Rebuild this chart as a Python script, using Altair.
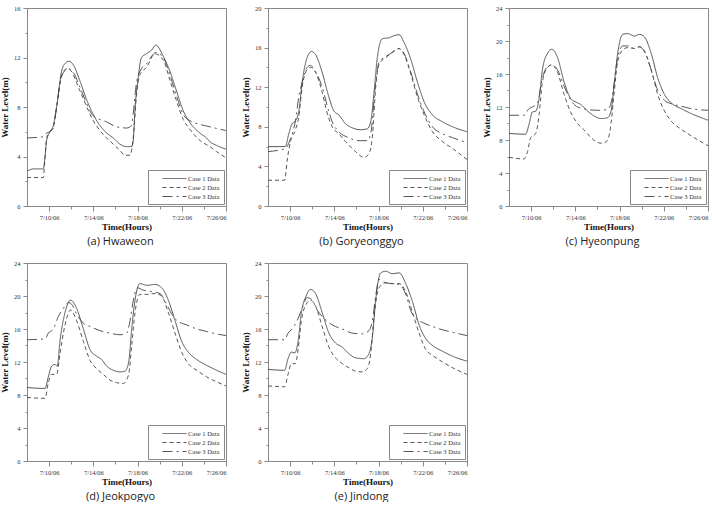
import altair as alt
import pandas as pd

CASES = ["Case 1 Data", "Case 2 Data", "Case 3 Data"]
START = pd.Timestamp("2006-07-08")

# ---- (a) Hwaweon ----
a1_day = [0, 0.57, 1.48, 1.63, 1.78, 2.08, 2.38, 2.68, 3.13, 3.43, 3.80, 4.19, 4.79, 5.39, 5.99, 6.60, 7.20, 7.80, 8.40, 9.01, 9.46, 9.61, 9.76, 10.06, 10.36, 10.81, 11.27, 11.66, 12.32, 12.92, 13.52, 14.13, 14.73, 15.63, 16.23, 16.54, 17.14, 17.98]
a1_lvl = [2.8, 3.0, 3.0, 4.0, 5.3, 6.0, 6.5, 8.0, 10.9, 11.5, 11.7, 11.4, 10.1, 8.6, 7.4, 6.5, 5.9, 5.5, 5.0, 4.8, 4.8, 5.3, 7.7, 10.4, 12.0, 12.3, 12.6, 13.0, 12.1, 10.9, 9.3, 7.7, 6.75, 5.9, 5.5, 5.2, 4.9, 4.6]
a2_day = [0, 1.48, 1.60, 1.78, 2.08, 2.38, 2.68, 3.13, 3.59, 3.90, 4.79, 5.99, 6.60, 7.80, 8.40, 8.86, 9.31, 9.61, 9.91, 10.21, 10.81, 11.57, 12.32, 12.92, 13.52, 14.13, 14.73, 15.63, 16.54, 17.14, 17.98]
a2_lvl = [2.3, 2.3, 3.5, 5.5, 6.0, 6.4, 8.0, 10.5, 11.1, 11.0, 9.3, 6.9, 6.1, 5.0, 4.5, 4.1, 4.1, 5.5, 9.0, 10.6, 11.2, 12.3, 11.8, 10.2, 8.5, 7.0, 6.2, 5.3, 4.8, 4.4, 3.9]
a3_day = [0, 1.48, 1.78, 2.08, 2.38, 2.68, 3.13, 3.72, 4.20, 4.79, 5.99, 7.20, 8.10, 9.01, 9.46, 9.61, 9.91, 10.36, 10.81, 11.66, 12.32, 12.92, 13.52, 14.13, 14.73, 15.63, 16.54, 17.98]
a3_lvl = [5.5, 5.6, 5.9, 6.0, 6.3, 8.0, 10.5, 11.1, 10.8, 9.6, 7.3, 6.8, 6.4, 6.3, 6.5, 7.5, 10.0, 11.1, 11.5, 12.4, 12.0, 10.6, 8.9, 7.4, 6.9, 6.6, 6.4, 6.1]

# ---- (b) Goryeonggyo ----
b1_day = [0, 1.57, 1.88, 2.18, 2.48, 2.78, 3.09, 3.54, 3.93, 4.30, 4.90, 5.51, 5.96, 6.41, 7.02, 7.62, 8.38, 8.98, 9.29, 9.59, 9.89, 10.34, 10.95, 11.40, 11.86, 12.31, 12.92, 13.52, 14.13, 14.88, 15.79, 16.70, 18.0]
b1_lvl = [6.0, 6.0, 7.3, 8.3, 8.6, 9.5, 12.5, 15.0, 15.6, 15.3, 13.5, 11.0, 9.6, 9.2, 8.3, 7.9, 7.7, 7.8, 8.5, 11.5, 15.0, 16.9, 17.0, 17.2, 17.3, 16.5, 14.8, 12.5, 10.5, 9.2, 8.5, 8.0, 7.5]
b2_day = [0, 1.51, 1.72, 2.03, 2.48, 2.78, 3.09, 3.54, 3.84, 4.30, 4.90, 5.35, 5.81, 6.41, 7.02, 7.92, 8.68, 9.13, 9.44, 9.74, 10.04, 10.65, 11.25, 11.86, 12.31, 12.92, 13.52, 14.13, 14.88, 15.79, 16.70, 18.0]
b2_lvl = [2.6, 2.6, 4.5, 6.5, 7.7, 9.0, 12.0, 13.8, 14.0, 13.5, 11.5, 9.4, 8.0, 7.3, 6.5, 5.5, 4.9, 5.3, 7.0, 12.0, 14.3, 15.0, 15.5, 15.9, 15.3, 13.3, 11.0, 9.2, 7.5, 6.5, 5.8, 4.7]
b3_day = [0, 1.57, 2.03, 2.48, 2.78, 3.09, 3.54, 3.84, 4.30, 4.90, 5.51, 5.81, 6.41, 7.32, 8.23, 8.98, 9.29, 9.74, 10.04, 10.95, 11.86, 12.31, 12.92, 13.52, 14.13, 14.88, 15.79, 16.70, 18.0]
b3_lvl = [5.5, 5.8, 6.8, 8.6, 11.0, 12.5, 14.0, 14.2, 13.6, 12.0, 9.5, 8.5, 7.5, 6.9, 6.6, 6.6, 7.3, 12.5, 14.5, 15.3, 15.9, 15.4, 13.5, 11.3, 9.5, 8.0, 7.3, 6.9, 6.4]

# ---- (c) Hyeonpung ----
c1_day = [0, 1.51, 1.81, 2.12, 2.42, 2.72, 3.02, 3.48, 3.87, 4.39, 4.99, 5.60, 6.05, 6.50, 7.11, 7.71, 8.32, 8.92, 9.23, 9.53, 9.83, 10.28, 10.74, 11.34, 11.80, 12.25, 12.86, 13.46, 14.07, 14.67, 15.58, 16.49, 18.0]
c1_lvl = [8.8, 8.7, 9.9, 11.4, 11.5, 13.0, 16.5, 18.5, 19.0, 18.0, 15.0, 13.0, 12.6, 12.3, 11.5, 10.9, 10.6, 10.7, 11.5, 15.0, 18.5, 20.8, 20.9, 20.6, 20.8, 20.5, 18.5, 15.5, 13.5, 12.5, 11.8, 11.2, 10.4]
c2_day = [0, 1.36, 1.66, 1.97, 2.42, 2.72, 3.02, 3.48, 3.87, 4.39, 4.99, 5.60, 6.20, 6.81, 7.41, 8.02, 8.47, 8.92, 9.23, 9.53, 9.83, 10.28, 10.74, 11.34, 11.80, 12.25, 12.86, 13.46, 14.07, 14.67, 15.58, 16.49, 18.0]
c2_lvl = [5.9, 5.7, 6.5, 8.3, 8.8, 11.0, 15.0, 16.8, 17.1, 16.2, 13.5, 11.3, 10.0, 9.2, 8.3, 7.7, 7.6, 8.0, 10.0, 14.0, 17.5, 18.9, 19.2, 19.1, 19.3, 18.8, 16.5, 13.5, 11.5, 10.3, 9.3, 8.5, 7.3]
c3_day = [0, 1.36, 1.81, 2.12, 2.57, 3.02, 3.48, 3.87, 4.39, 4.99, 5.60, 6.20, 7.11, 8.02, 8.92, 9.23, 9.53, 9.83, 10.28, 10.74, 11.34, 11.80, 12.25, 12.86, 13.46, 14.07, 14.67, 15.58, 16.49, 18.0]
c3_lvl = [11.0, 11.0, 11.8, 12.0, 12.5, 15.5, 16.9, 17.1, 16.5, 14.5, 12.8, 12.0, 11.7, 11.6, 11.7, 12.5, 15.0, 18.0, 19.4, 19.4, 19.1, 19.3, 18.7, 16.5, 14.0, 12.8, 12.4, 12.1, 11.8, 11.6]

# ---- (d) Jeokpogyo ----
d1_day = [0, 1.63, 1.93, 2.23, 2.53, 2.74, 2.98, 3.44, 3.95, 4.49, 5.10, 5.70, 6.30, 6.75, 7.21, 7.81, 8.41, 8.86, 9.20, 9.47, 9.77, 10.22, 10.82, 11.58, 12.18, 12.78, 13.39, 13.99, 14.59, 15.35, 16.25, 17.15, 18.0]
d1_lvl = [8.9, 8.8, 10.2, 11.5, 11.7, 11.5, 14.5, 18.0, 19.5, 18.5, 16.0, 13.5, 12.7, 12.3, 11.5, 11.0, 10.8, 10.9, 12.0, 16.0, 19.5, 21.5, 21.3, 21.4, 21.0, 19.5, 17.0, 14.5, 13.2, 12.3, 11.6, 11.0, 10.5]
d2_day = [0, 1.63, 1.93, 2.23, 2.68, 2.98, 3.44, 3.95, 4.49, 5.10, 5.70, 6.30, 6.90, 7.51, 8.11, 8.71, 9.20, 9.47, 9.77, 10.22, 10.82, 11.58, 12.18, 12.78, 13.39, 13.99, 14.59, 15.35, 16.25, 17.15, 18.0]
d2_lvl = [7.7, 7.6, 9.5, 10.5, 10.5, 13.0, 16.5, 18.3, 17.0, 14.5, 12.2, 11.2, 10.5, 9.8, 9.5, 9.4, 10.5, 14.0, 18.0, 20.2, 20.2, 20.3, 20.0, 18.0, 15.5, 13.2, 11.8, 11.0, 10.2, 9.6, 9.1]
d3_day = [0, 1.63, 1.93, 2.38, 2.83, 3.29, 3.74, 4.04, 4.49, 5.10, 5.70, 6.60, 7.51, 8.41, 9.01, 9.32, 9.62, 9.98, 10.52, 11.43, 12.03, 12.63, 13.23, 13.84, 14.44, 15.35, 16.25, 17.15, 18.0]
d3_lvl = [14.7, 14.8, 15.5, 16.0, 17.5, 18.5, 19.2, 19.0, 17.8, 16.7, 16.3, 15.8, 15.5, 15.3, 15.5, 17.0, 19.5, 21.0, 20.7, 20.5, 20.3, 19.0, 17.5, 16.8, 16.5, 16.0, 15.7, 15.4, 15.2]

# ---- (e) Jindong ----
e1_day = [0, 1.51, 1.81, 2.12, 2.42, 2.72, 3.02, 3.45, 3.84, 4.30, 4.90, 5.51, 6.11, 6.72, 7.32, 7.92, 8.68, 9.13, 9.44, 9.74, 10.19, 10.65, 11.25, 11.86, 12.46, 13.07, 13.67, 14.28, 14.88, 15.79, 16.70, 18.0]
e1_lvl = [11.1, 11.0, 12.4, 13.2, 13.1, 14.5, 18.0, 20.0, 20.8, 20.3, 18.0, 15.5, 14.3, 13.8, 13.0, 12.5, 12.4, 13.0, 15.0, 19.5, 22.8, 23.0, 22.7, 22.8, 21.5, 19.3, 16.5, 14.8, 14.0, 13.3, 12.7, 12.1]
e2_day = [0, 1.51, 1.81, 2.12, 2.48, 2.72, 3.02, 3.45, 3.84, 4.30, 4.90, 5.51, 6.11, 6.72, 7.32, 7.92, 8.53, 8.98, 9.29, 9.59, 10.04, 10.65, 11.25, 11.86, 12.46, 13.07, 13.67, 14.28, 14.88, 15.79, 16.70, 18.0]
e2_lvl = [9.1, 9.0, 10.5, 11.8, 11.8, 13.5, 17.0, 19.0, 19.5, 18.8, 16.3, 13.8, 12.5, 11.8, 11.3, 10.9, 10.8, 11.2, 13.0, 17.5, 21.0, 21.6, 21.5, 21.5, 20.5, 18.0, 15.5, 13.5, 12.8, 12.0, 11.3, 10.5]
e3_day = [0, 1.51, 1.81, 2.18, 2.63, 3.09, 3.54, 3.93, 4.45, 5.05, 5.81, 6.72, 7.62, 8.53, 9.13, 9.44, 9.74, 10.04, 10.65, 11.25, 11.86, 12.46, 12.92, 13.37, 13.97, 14.88, 15.79, 16.70, 18.0]
e3_lvl = [14.7, 14.7, 15.5, 16.0, 17.0, 18.5, 19.8, 19.6, 18.3, 17.3, 16.5, 16.0, 15.5, 15.4, 15.8, 17.0, 20.0, 22.0, 21.6, 21.5, 21.4, 20.2, 18.2, 17.3, 16.8, 16.3, 15.9, 15.6, 15.2]

CAPTIONS = ["(a) Hwaweon", "(b) Goryeonggyo", "(c) Hyeonpung", "(d) Jeokpogyo", "(e) Jindong"]
Y_MAX = [16, 20, 24, 24, 24]
SERIES = [
    [(a1_day, a1_lvl), (a2_day, a2_lvl), (a3_day, a3_lvl)],
    [(b1_day, b1_lvl), (b2_day, b2_lvl), (b3_day, b3_lvl)],
    [(c1_day, c1_lvl), (c2_day, c2_lvl), (c3_day, c3_lvl)],
    [(d1_day, d1_lvl), (d2_day, d2_lvl), (d3_day, d3_lvl)],
    [(e1_day, e1_lvl), (e2_day, e2_lvl), (e3_day, e3_lvl)],
]
X_TICK_DAYS = [10, 12, 14, 16, 18, 20, 22, 24, 26]

DASHES = [[1, 0], [4, 3], [10, 4, 2, 4]]
LINE_COLOR = "#444"


def make_panel(caption, ymax, series):
    rows = []
    for k, (case, (days, vals)) in enumerate(zip(CASES, series)):
        for d, v in zip(days, vals):
            t = START + pd.Timedelta(days=d)
            rows.append({"case": case, "order": k, "t": t.strftime("%Y-%m-%dT%H:%M:%S"), "level": v})
    df = pd.DataFrame(rows)
    x = alt.X(
        "t:T",
        scale=alt.Scale(domain=[alt.DateTime(year=2006, month=7, date=8),
                                alt.DateTime(year=2006, month=7, date=26)]),
        axis=alt.Axis(
            values=[alt.DateTime(year=2006, month=7, date=d) for d in X_TICK_DAYS],
            labelExpr="date(datum.value) % 4 == 2 ? timeFormat(datum.value, '%-m/%d/%y') : ''",
            tickSize={"condition": {"test": "date(datum.value) % 4 == 2", "value": 5}, "value": 3},
            title="Time(Hours)",
            labelPadding=3,
            titlePadding=2,
            labelOverlap=False,
        ),
    )
    y = alt.Y(
        "level:Q",
        scale=alt.Scale(domain=[0, ymax], nice=False, zero=True),
        axis=alt.Axis(
            values=list(range(0, ymax + 1, 2)),
            labelExpr="datum.value % 4 == 0 ? datum.label : ''",
            tickSize={"condition": {"test": "datum.value % 4 == 0", "value": 4}, "value": 2},
            title="Water Level(m)",
            labelPadding=3,
            titlePadding=4,
            labelOverlap=False,
        ),
    )
    return (
        alt.Chart(df)
        .mark_line(color=LINE_COLOR, strokeWidth=0.9, interpolate="monotone")
        .encode(
            x=x,
            y=y,
            strokeDash=alt.StrokeDash(
                "case:N",
                scale=alt.Scale(domain=CASES, range=DASHES),
                legend=alt.Legend(
                    title=None,
                    orient="bottom-right",
                    offset=2,
                    symbolType="M1.5,0H7.5",
                    symbolSize=64,
                    symbolStrokeWidth=0.9,
                    symbolStrokeColor=LINE_COLOR,
                    labelFont="Liberation Serif",
                    labelFontSize=6.5,
                    labelColor="#333",
                    strokeColor="#888",
                    fillColor="white",
                    padding=4,
                    rowPadding=1,
                    labelOffset=27,
                ),
            ),
            order="order:Q",
        )
        .properties(
            width=199,
            height=198,
            title=alt.TitleParams(
                caption, orient="bottom", font="Open Sans", fontSize=11,
                fontWeight="normal", color="#222", offset=4, frame="group", dx=-6,
            ),
        )
    )


panels = [make_panel(c, m, s) for c, m, s in zip(CAPTIONS, Y_MAX, SERIES)]

chart = (
    alt.concat(*panels, columns=3, spacing={"row": 57, "column": 42}, bounds="flush")
    .resolve_scale(y="independent", strokeDash="independent")
    .resolve_legend(strokeDash="independent")
    .properties(padding={"left": 0, "top": 4, "right": 0, "bottom": 0}, background="white")
    .configure_view(stroke="#888", strokeWidth=1)
    .configure_axis(
        grid=False,
        domainColor="#888",
        tickColor="#888",
        labelFont="Liberation Serif",
        labelFontSize=6.5,
        labelColor="#333",
        titleFont="Liberation Serif",
        titleFontSize=9,
        titleFontWeight="bold",
        titleColor="#111",
    )
)

chart.save("out.html", embed_options={"renderer": "svg", "actions": False})
